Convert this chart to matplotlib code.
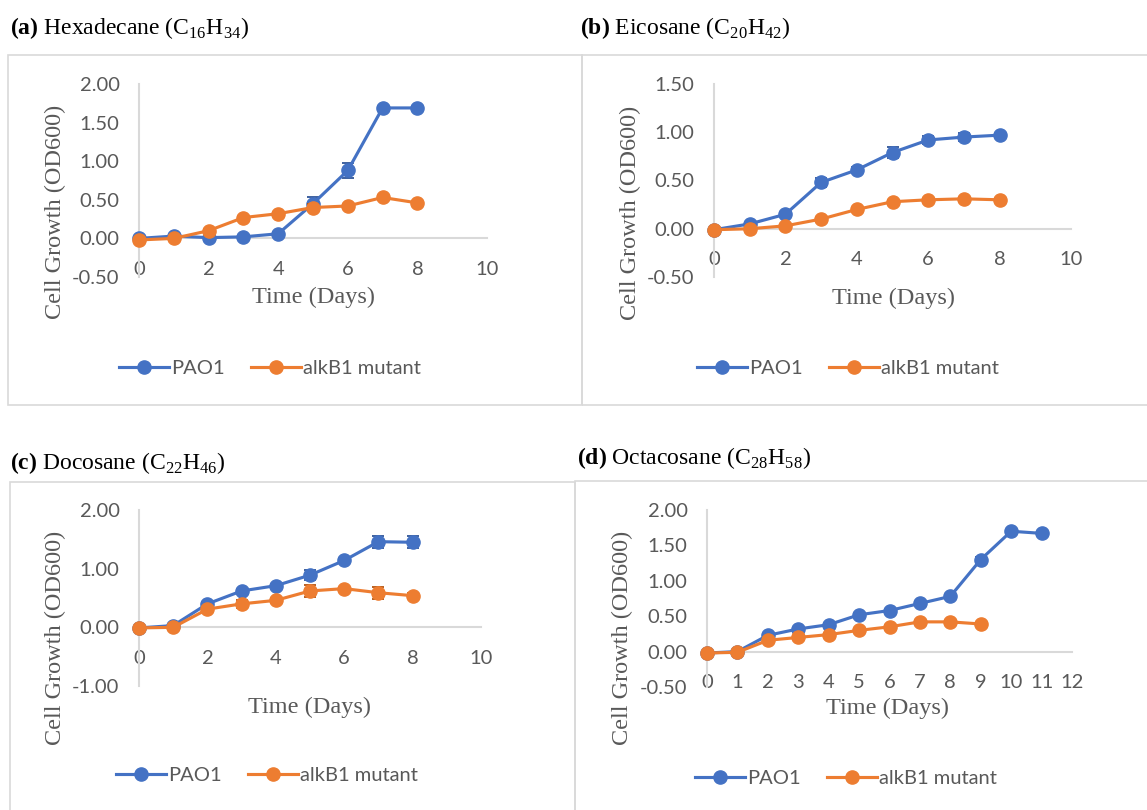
import matplotlib.pyplot as plt
from matplotlib.patches import Rectangle
import numpy as np

plt.rcParams['mathtext.fontset'] = 'custom'
plt.rcParams['mathtext.rm'] = 'Liberation Serif'
plt.rcParams['mathtext.bf'] = 'Liberation Serif:bold'

W, H = 1147, 810
BLUE = '#4472C4'
ORANGE = '#ED7D31'
GREY = '#595959'
LINE = '#D9D9D9'

# panel (a) hexadecane
days_a = [0, 1, 2, 3, 4, 5, 6, 7, 8]
pao1_a = [0.00, 0.03, 0.01, 0.02, 0.06, 0.45, 0.88, 1.69, 1.69]
pao1_a_err = [0.01, 0.01, 0.01, 0.01, 0.02, 0.08, 0.10, 0.02, 0.02]
mut_a = [-0.02, 0.00, 0.10, 0.27, 0.32, 0.40, 0.42, 0.53, 0.46]
mut_a_err = [0.01, 0.01, 0.02, 0.02, 0.02, 0.05, 0.02, 0.03, 0.02]

# panel (b) eicosane
days_b = [0, 1, 2, 3, 4, 5, 6, 7, 8]
pao1_b = [-0.01, 0.05, 0.15, 0.48, 0.61, 0.79, 0.92, 0.95, 0.97]
pao1_b_err = [0.01, 0.01, 0.02, 0.05, 0.03, 0.06, 0.04, 0.04, 0.02]
mut_b = [-0.01, 0.00, 0.03, 0.10, 0.20, 0.28, 0.30, 0.31, 0.30]
mut_b_err = [0.01, 0.01, 0.01, 0.02, 0.02, 0.02, 0.02, 0.02, 0.02]

# panel (c) docosane
days_c = [0, 1, 2, 3, 4, 5, 6, 7, 8]
pao1_c = [-0.01, 0.03, 0.40, 0.62, 0.71, 0.89, 1.14, 1.46, 1.45]
pao1_c_err = [0.01, 0.01, 0.03, 0.04, 0.03, 0.08, 0.04, 0.10, 0.10]
mut_c = [-0.01, 0.00, 0.31, 0.40, 0.46, 0.62, 0.66, 0.59, 0.54]
mut_c_err = [0.01, 0.01, 0.04, 0.07, 0.04, 0.10, 0.03, 0.10, 0.04]

# panel (d) octacosane
days_d_pao1 = [0, 1, 2, 3, 4, 5, 6, 7, 8, 9, 10, 11]
pao1_d = [-0.02, 0.00, 0.23, 0.32, 0.38, 0.52, 0.58, 0.68, 0.78, 1.30, 1.70, 1.67]
pao1_d_err = [0.01, 0.01, 0.02, 0.02, 0.02, 0.02, 0.02, 0.02, 0.02, 0.03, 0.02, 0.02]
days_d_mut = [0, 1, 2, 3, 4, 5, 6, 7, 8, 9]
mut_d = [-0.02, -0.01, 0.16, 0.20, 0.24, 0.30, 0.35, 0.42, 0.42, 0.39]
mut_d_err = [0.01, 0.01, 0.02, 0.02, 0.02, 0.02, 0.02, 0.02, 0.02, 0.02]

titles = [r'$\mathbf{(a)}$ Hexadecane (C$_{16}$H$_{34}$)',
          r'$\mathbf{(b)}$ Eicosane (C$_{20}$H$_{42}$)',
          r'$\mathbf{(c)}$ Docosane (C$_{22}$H$_{46}$)',
          r'$\mathbf{(d)}$ Octacosane (C$_{28}$H$_{58}$)']


def fx(x):
    return x / W


def fy(y):
    return 1 - y / H


fig = plt.figure(figsize=(W / 100, H / 100), dpi=100)

panels = [
    # axes px box (x0, x1, ytop, ybot), yticks, xticks, data
    dict(box=(139, 487, 84, 277), yt=np.arange(-0.5, 2.01, 0.5), xt=np.arange(0, 11, 2),
         blue=(days_a, pao1_a, pao1_a_err), orange=(days_a, mut_a, mut_a_err),
         title=(10, 28), frame=(8, 55, 582, 405), ylab=(55, 212), xlab=(313, 297), leg=(270, 368)),
    dict(box=(714, 1071, 84, 277), yt=np.arange(-0.5, 1.51, 0.5), xt=np.arange(0, 11, 2),
         blue=(days_b, pao1_b, pao1_b_err), orange=(days_b, mut_b, mut_b_err),
         title=(580, 28), frame=(582, 55, 1160, 405), ylab=(630, 213), xlab=(893, 298), leg=(848, 368)),
    dict(box=(139, 481, 510, 686), yt=np.arange(-1.0, 2.01, 1.0), xt=np.arange(0, 11, 2),
         blue=(days_c, pao1_c, pao1_c_err), orange=(days_c, mut_c, mut_c_err),
         title=(10, 463), frame=(10, 482, 575, 820), ylab=(55, 638), xlab=(310, 707), leg=(267, 775)),
    dict(box=(707, 1072, 510, 687), yt=np.arange(-0.5, 2.01, 0.5), xt=np.arange(0, 13, 1),
         blue=(days_d_pao1, pao1_d, pao1_d_err), orange=(days_d_mut, mut_d, mut_d_err),
         title=(577, 458), frame=(575, 481, 1160, 820), ylab=(622, 638), xlab=(888, 708), leg=(846, 778)),
]

for p, title in zip(panels, titles):
    x0, x1, yt_px, yb_px = p['box']
    fr = p['frame']
    fig.patches.append(Rectangle((fx(fr[0]), fy(fr[3])), fx(fr[2] - fr[0]), (fr[3] - fr[1]) / H,
                                 transform=fig.transFigure, fill=False, ec=LINE, lw=1.2, zorder=0))

    ax = fig.add_axes([fx(x0), fy(yb_px), fx(x1 - x0), (yb_px - yt_px) / H])
    ax.set_facecolor('none')
    yt = p['yt']
    xt = p['xt']
    ax.set_ylim(yt[0], yt[-1])
    ax.set_xlim(xt[0], xt[-1])
    ax.set_yticks(yt)
    ax.set_yticklabels(['%.2f' % v for v in yt])
    ax.set_xticks(xt)
    ax.set_xticklabels([str(v) for v in xt])
    for s in ['top', 'right']:
        ax.spines[s].set_visible(False)
    ax.spines['bottom'].set_position(('data', 0))
    ax.spines['bottom'].set_color(LINE)
    ax.spines['left'].set_color(LINE)
    ax.spines['bottom'].set_linewidth(1.5)
    ax.spines['left'].set_linewidth(1.5)
    ax.tick_params(axis='both', length=0, labelsize=14.5, labelcolor=GREY)
    ax.tick_params(axis='x', pad=16)
    ax.tick_params(axis='y', pad=14)
    for lab in ax.get_xticklabels() + ax.get_yticklabels():
        lab.set_fontfamily('Lato')

    bx, by, be = p['blue']
    ox, oy, oe = p['orange']
    ax.errorbar(bx, by, yerr=be, color=BLUE, ecolor='#2F5597', lw=2.25, marker='o', ms=9.5,
                capsize=4, elinewidth=1.3, capthick=1.3, clip_on=False, label='PAO1', zorder=3)
    ax.errorbar(ox, oy, yerr=oe, color=ORANGE, ecolor='#B4540F', lw=2.25, marker='o', ms=9.5,
                capsize=4, elinewidth=1.3, capthick=1.3, clip_on=False, label='alkB1 mutant', zorder=4)

    fig.text(fx(p['title'][0]), fy(p['title'][1]), title, fontsize=17, family='Liberation Serif',
             ha='left', va='center')
    fig.text(fx(p['ylab'][0]), fy(p['ylab'][1]), 'Cell Growth (OD600)', fontsize=17.5,
             family='Liberation Serif', color=GREY, rotation=90, ha='center', va='center')
    fig.text(fx(p['xlab'][0]), fy(p['xlab'][1]), 'Time (Days)', fontsize=17.5,
             family='Liberation Serif', color=GREY, ha='center', va='center')

    h, l = ax.get_legend_handles_labels()
    h = [hh[0] for hh in h]
    leg = fig.legend(h, l, loc='center', bbox_to_anchor=(fx(p['leg'][0]), fy(p['leg'][1])),
                     ncol=2, frameon=False, handlelength=2.5, handletextpad=0.1, columnspacing=1.3,
                     prop={'family': 'Lato', 'size': 14.5})
    for t in leg.get_texts():
        t.set_color(GREY)

fig.savefig('out.png', dpi=100, facecolor='white')
